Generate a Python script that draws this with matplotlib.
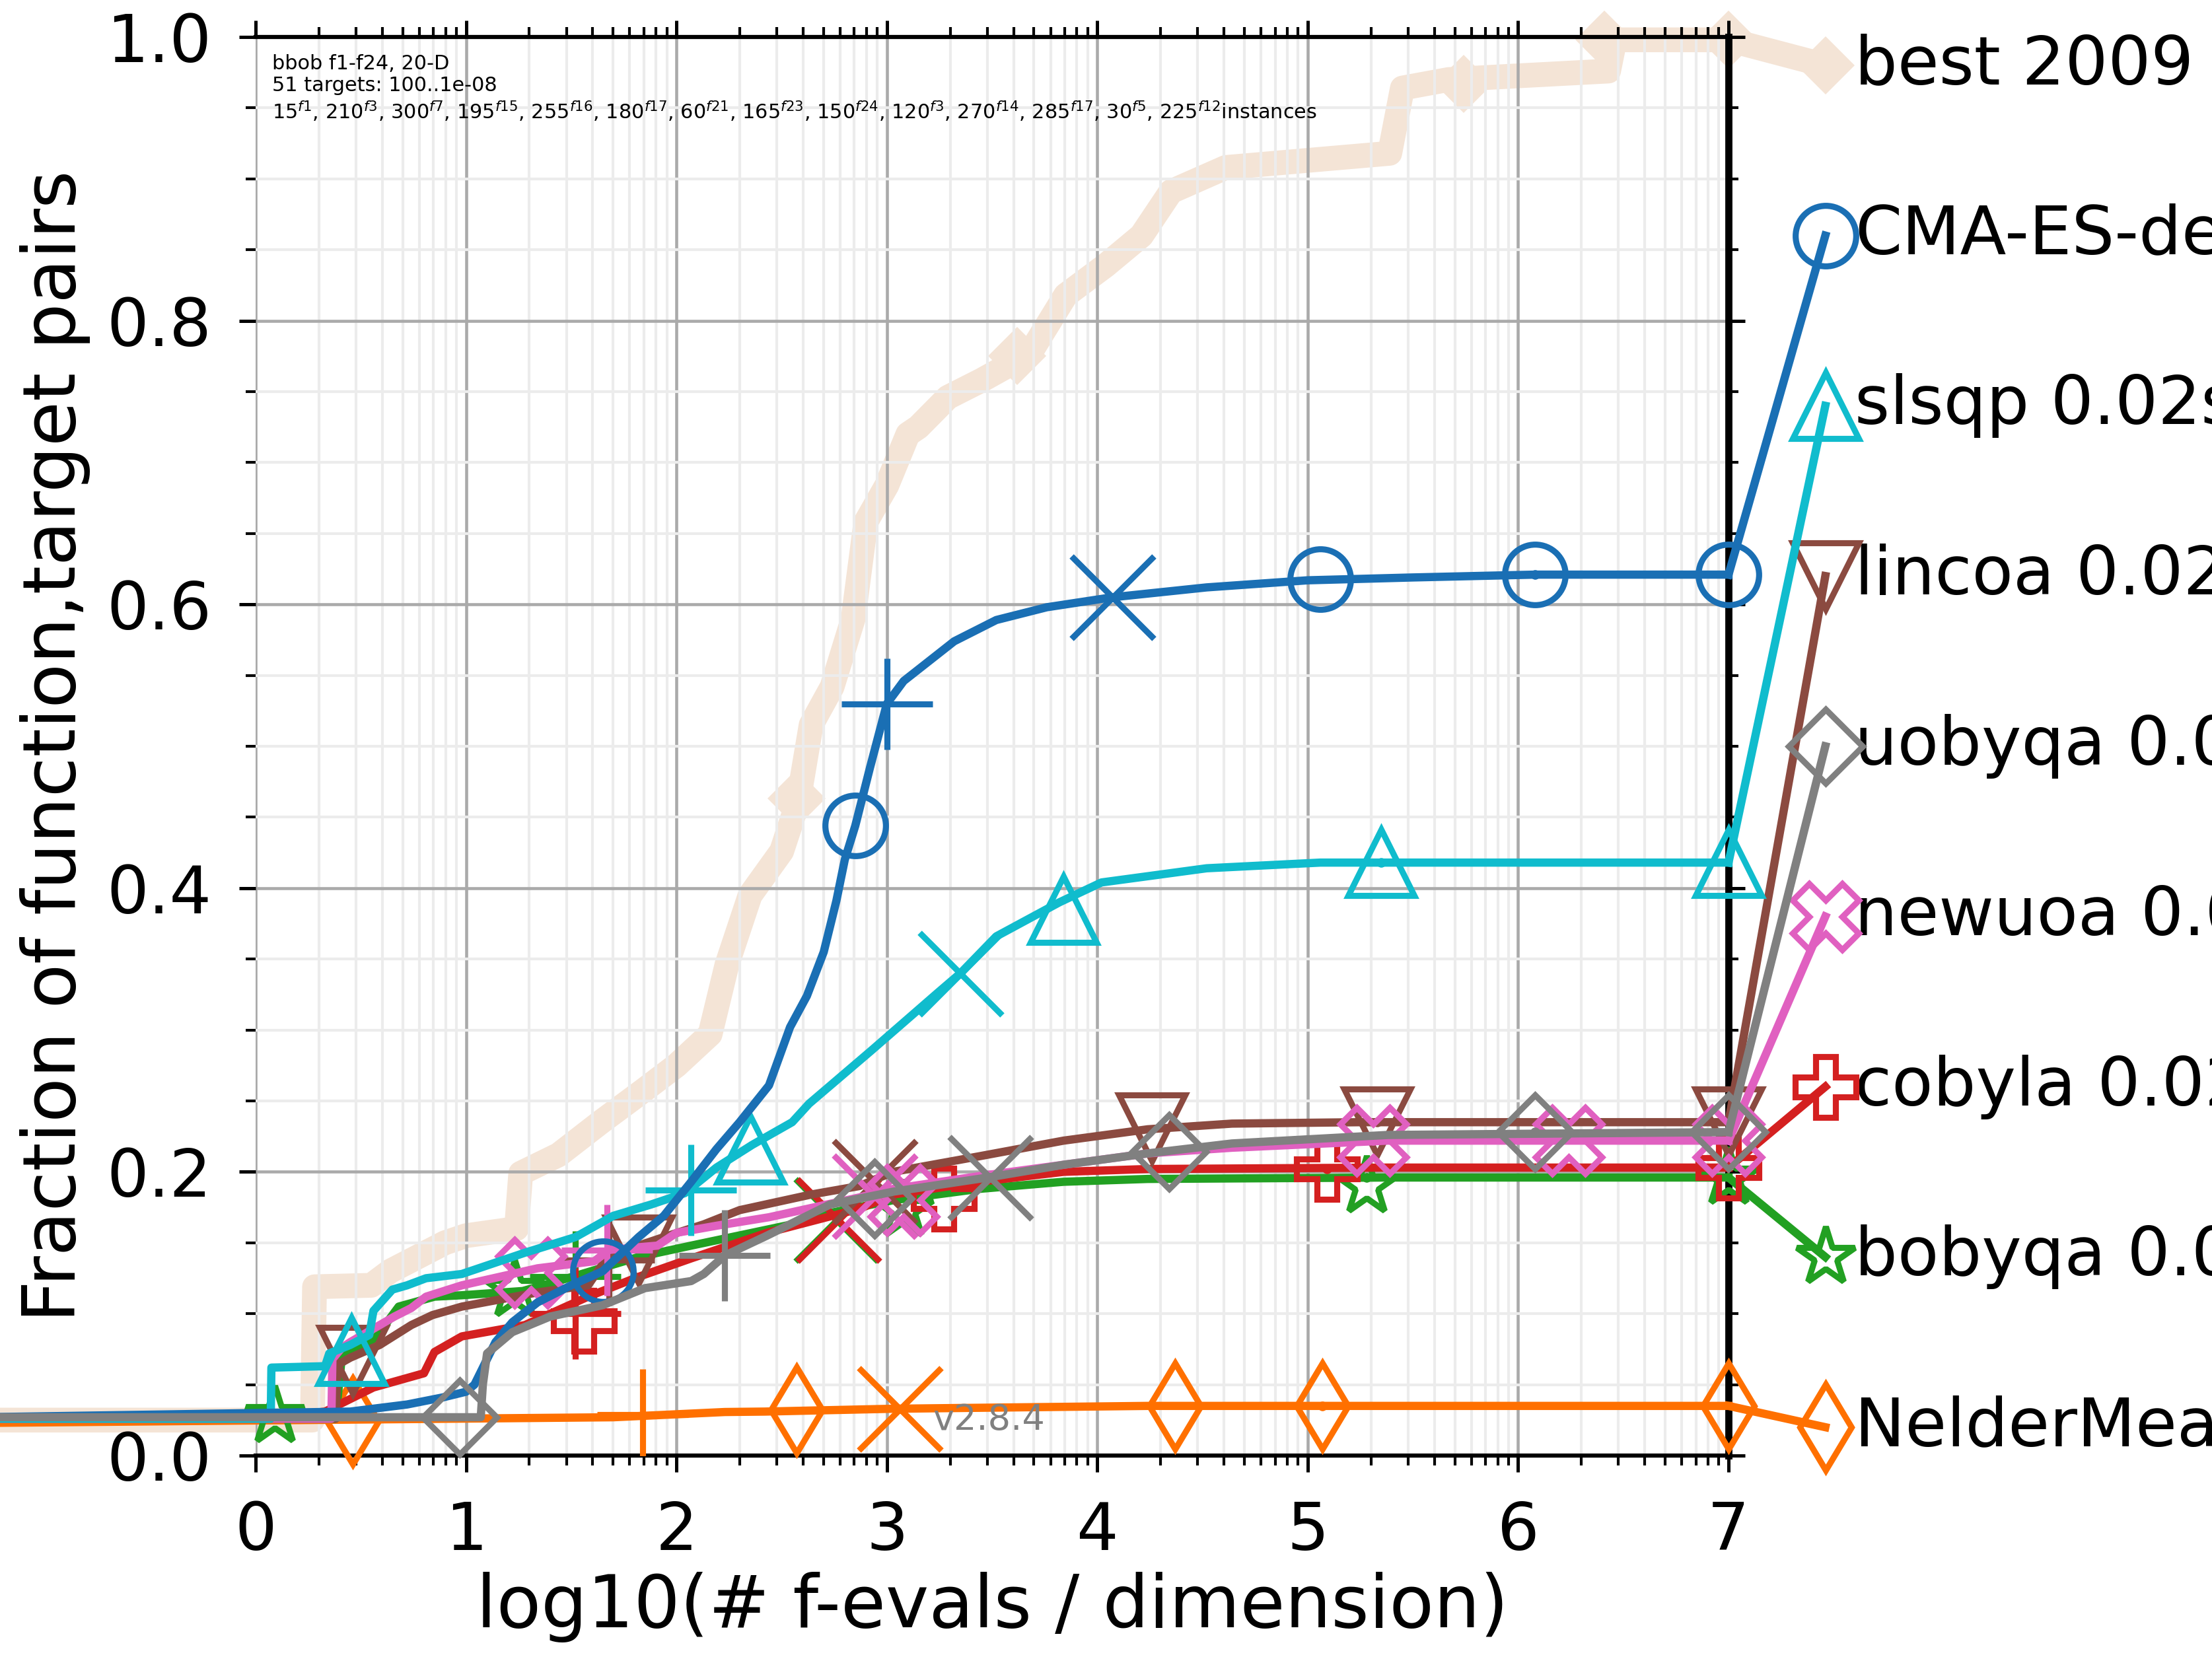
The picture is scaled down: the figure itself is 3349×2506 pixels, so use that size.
import numpy as np
import matplotlib
matplotlib.use('Agg')
from matplotlib import pyplot as plt
from matplotlib.ticker import FixedLocator, FuncFormatter, LogLocator, MultipleLocator, NullFormatter

# runtime ECDFs, x = log10(# f-evals / dimension), y = fraction of (function, target) pairs
best_x = [-1.3, 0.27, 0.28, 0.55, 0.64, 0.9, 1.0, 1.24, 1.26, 1.44, 1.64, 1.84, 2.0, 2.16, 2.24,
          2.35, 2.5, 2.58, 2.64, 2.74, 2.84, 2.9, 3.0, 3.1, 3.15, 3.29, 3.45, 3.68, 3.85, 4.04,
          4.21, 4.35, 4.61, 5.39, 5.45, 5.67, 6.43, 6.46, 7.0]
best_y = [0.025, 0.025, 0.119, 0.12, 0.13, 0.15, 0.155, 0.16, 0.199, 0.212, 0.235, 0.257, 0.275,
          0.297, 0.346, 0.395, 0.426, 0.462, 0.515, 0.542, 0.59, 0.658, 0.684, 0.72, 0.725, 0.746,
          0.758, 0.777, 0.818, 0.839, 0.86, 0.891, 0.908, 0.918, 0.964, 0.97, 0.976, 0.998, 0.998]
best_marks = [(2.57, 0.463), (3.62, 0.775), (5.74, 0.967), (6.41, 0.998), (7.0, 0.998)]

cma_x = [-1.3, 0.45, 0.72, 0.89, 1.0, 1.04, 1.14, 1.22, 1.34, 1.5, 1.65, 1.82, 1.94, 2.07, 2.19,
         2.3, 2.44, 2.54, 2.62, 2.7, 2.76, 2.8, 2.85, 2.92, 3.0, 3.08, 3.2, 3.32, 3.52, 3.76, 4.07,
         4.52, 5.0, 5.5, 6.08, 7.0]
cma_y = [0.027, 0.031, 0.036, 0.041, 0.045, 0.05, 0.08, 0.094, 0.108, 0.12, 0.13, 0.154, 0.169,
         0.193, 0.216, 0.235, 0.261, 0.302, 0.324, 0.355, 0.391, 0.42, 0.444, 0.485, 0.53, 0.546,
         0.56, 0.574, 0.589, 0.598, 0.605, 0.612, 0.617, 0.619, 0.621, 0.621]
cma_marks = [(1.65, 0.13), (2.85, 0.444), (5.06, 0.618), (6.08, 0.621), (7.0, 0.621)]
cma_plus, cma_cross, cma_dot = (3.0, 0.53), (4.07, 0.605), (6.08, 0.621)

slsqp_x = [-1.3, 0.072, 0.075, 0.33, 0.35, 0.45, 0.54, 0.56, 0.65, 0.72, 0.81, 0.98, 1.28, 1.52,
           1.7, 1.88, 2.04, 2.19, 2.36, 2.55, 2.63, 2.93, 3.24, 3.35, 3.52, 3.82, 4.02, 4.52, 5.06, 7.0]
slsqp_y = [0.026, 0.026, 0.062, 0.063, 0.072, 0.078, 0.085, 0.102, 0.117, 0.12, 0.125, 0.128,
           0.143, 0.154, 0.169, 0.177, 0.185, 0.203, 0.219, 0.235, 0.248, 0.286, 0.326, 0.34,
           0.366, 0.39, 0.404, 0.414, 0.418, 0.418]
slsqp_marks = [(0.455, 0.074), (2.35, 0.216), (3.84, 0.385), (5.35, 0.418), (7.0, 0.418)]
slsqp_plus, slsqp_cross, slsqp_dot = (2.07, 0.187), (3.35, 0.34), (5.35, 0.418)

lincoa_x = [-1.3, 0.38, 0.39, 0.45, 0.59, 0.74, 0.84, 0.98, 1.34, 1.58, 1.64, 1.68, 1.94, 2.13,
            2.3, 2.64, 2.87, 3.03, 3.44, 3.84, 4.24, 4.64, 5.25, 7.0]
lincoa_y = [0.026, 0.026, 0.064, 0.069, 0.078, 0.092, 0.099, 0.105, 0.115, 0.12, 0.133, 0.141,
            0.154, 0.163, 0.173, 0.184, 0.19, 0.2, 0.211, 0.222, 0.23, 0.234, 0.235, 0.235]
lincoa_marks = [(0.46, 0.067), (1.82, 0.145), (4.26, 0.231), (5.33, 0.235), (7.0, 0.235)]
lincoa_plus, lincoa_cross, lincoa_dot = (1.68, 0.138), (2.94, 0.193), (5.33, 0.235)

uobyqa_x = [-1.3, 1.07, 1.08, 1.1, 1.22, 1.4, 1.65, 1.85, 2.07, 2.13, 2.23, 2.43, 2.73, 3.03,
            3.48, 3.84, 4.24, 4.64, 5.38, 7.0]
uobyqa_y = [0.027, 0.027, 0.05, 0.072, 0.087, 0.098, 0.106, 0.118, 0.123, 0.128, 0.141, 0.155,
            0.177, 0.186, 0.196, 0.205, 0.213, 0.22, 0.226, 0.228]
uobyqa_marks = [(0.97, 0.027), (2.94, 0.181), (4.34, 0.214), (6.08, 0.228), (7.0, 0.228)]
uobyqa_plus, uobyqa_cross, uobyqa_dot = (2.23, 0.141), (3.49, 0.196), (6.08, 0.228)

newuoa_x = [-1.3, 0.36, 0.365, 0.41, 0.45, 0.66, 0.74, 0.81, 0.98, 1.34, 1.61, 1.68, 1.91, 2.0,
            2.19, 2.44, 2.87, 3.03, 3.44, 3.84, 4.24, 4.64, 5.38, 7.0]
newuoa_y = [0.026, 0.026, 0.068, 0.076, 0.08, 0.098, 0.104, 0.112, 0.12, 0.132, 0.137, 0.145,
            0.148, 0.157, 0.162, 0.168, 0.182, 0.188, 0.197, 0.205, 0.213, 0.217, 0.222, 0.222]
newuoa_marks = [(1.31, 0.129), (3.08, 0.18), (5.31, 0.222), (6.24, 0.222), (7.0, 0.222)]
newuoa_plus, newuoa_cross, newuoa_dot = (1.67, 0.145), (2.94, 0.183), (5.31, 0.222)

cobyla_x = [-1.3, 0.08, 0.33, 0.56, 0.8, 0.85, 0.98, 1.28, 1.58, 1.82, 2.07, 2.43, 2.87, 3.03,
            3.44, 3.84, 4.24, 5.38, 7.0]
cobyla_y = [0.026, 0.027, 0.031, 0.048, 0.058, 0.073, 0.084, 0.092, 0.112, 0.126, 0.139, 0.157,
            0.174, 0.184, 0.193, 0.2, 0.202, 0.203, 0.203]
cobyla_marks = [(1.56, 0.095), (3.27, 0.181), (5.09, 0.202), (7.0, 0.203)]
cobyla_plus, cobyla_cross, cobyla_dot = (1.52, 0.1), (2.77, 0.166), (5.09, 0.202)

bobyqa_x = [-1.3, 0.38, 0.41, 0.57, 0.68, 0.85, 0.98, 1.27, 1.46, 1.82, 2.07, 2.55, 2.63, 3.03,
            3.44, 3.84, 4.24, 5.38, 7.0]
bobyqa_y = [0.026, 0.026, 0.07, 0.083, 0.105, 0.112, 0.113, 0.116, 0.124, 0.14, 0.148, 0.163,
            0.168, 0.18, 0.188, 0.193, 0.195, 0.196, 0.196]
bobyqa_marks = [(0.09, 0.028), (1.23, 0.117), (3.08, 0.173), (5.28, 0.19), (7.0, 0.196)]
bobyqa_plus, bobyqa_cross, bobyqa_dot = (1.52, 0.126), (2.76, 0.166), (5.28, 0.196)

nm_x = [-1.3, 1.7, 2.23, 2.42, 3.03, 4.24, 7.0]
nm_y = [0.023, 0.027, 0.0307, 0.031, 0.033, 0.035, 0.035]
nm_marks = [(0.46, 0.024), (2.57, 0.032), (4.37, 0.035), (5.07, 0.035), (7.0, 0.035)]
nm_plus, nm_cross, nm_dot = (1.84, 0.029), (3.06, 0.033), (5.07, 0.035)

label_names = ['best 2009', 'CMA-ES-default', 'slsqp 0.02s', 'lincoa 0.02s', 'uobyqa 0.02s',
               'newuoa 0.02s', 'cobyla 0.02s', 'bobyqa 0.02s', 'NelderMead 0.02s']
label_y = [0.98, 0.86, 0.74, 0.62, 0.50, 0.38, 0.26, 0.14, 0.02]

info_text = ('bbob f1-f24, 20-D\n51 targets: 100..1e-08\n'
             '15$^{f1}$, 210$^{f3}$, 300$^{f7}$, 195$^{f15}$, 255$^{f16}$, 180$^{f17}$, '
             '60$^{f21}$, 165$^{f23}$, 150$^{f24}$, 120$^{f3}$, 270$^{f14}$, 285$^{f17}$, '
             '30$^{f5}$, 225$^{f12}$instances')

# name, color, marker, size, line x/y, markers, plus, cross, dot, drawing order
algs = [
    ('NelderMead 0.02s', '#ff7000', 'd', 22, nm_x, nm_y, nm_marks, nm_plus, nm_cross, nm_dot, 3.0),
    ('bobyqa 0.02s', '#22a022', '*', 22, bobyqa_x, bobyqa_y, bobyqa_marks, bobyqa_plus, bobyqa_cross, bobyqa_dot, 3.1),
    ('cobyla 0.02s', '#d42020', 'P', 22, cobyla_x, cobyla_y, cobyla_marks, cobyla_plus, cobyla_cross, cobyla_dot, 3.2),
    ('lincoa 0.02s', '#8b4a40', 'v', 24, lincoa_x, lincoa_y, lincoa_marks, lincoa_plus, lincoa_cross, lincoa_dot, 3.3),
    ('newuoa 0.02s', '#e060c0', 'X', 24, newuoa_x, newuoa_y, newuoa_marks, newuoa_plus, newuoa_cross, newuoa_dot, 3.4),
    ('slsqp 0.02s', '#10bccd', '^', 24, slsqp_x, slsqp_y, slsqp_marks, slsqp_plus, slsqp_cross, slsqp_dot, 3.5),
    ('CMA-ES-default', '#1a6fb4', 'o', 22, cma_x, cma_y, cma_marks, cma_plus, cma_cross, cma_dot, 3.6),
    ('uobyqa 0.02s', '#808080', 'D', 19, uobyqa_x, uobyqa_y, uobyqa_marks, uobyqa_plus, uobyqa_cross, uobyqa_dot, 3.7),
]

LX = 7.46    # log10 position of the end-of-line labels
TX = 7.60
LW = 3.0
MEW = 2.2

plt.rcParams['font.family'] = 'DejaVu Sans'
fig = plt.figure(figsize=(3349 / 300, 2506 / 300), dpi=300)
ax = fig.add_axes([387 / 3349, 302 / 2506, 2230 / 3349, 2148 / 2506])
ax.set_xscale('log')


def lg(v):
    return 10.0 ** np.asarray(v, dtype=float)


# best 2009 reference band, kept under the grid
beige = '#f4e4d6'
ax.plot(lg(best_x), best_y, color=beige, lw=9, solid_capstyle='butt', solid_joinstyle='round',
        clip_on=False, zorder=0.4)
bm = np.array(best_marks)
ax.plot(lg(bm[:, 0]), bm[:, 1], ls='none', marker='D', ms=15, color=beige, mew=0,
        clip_on=False, zorder=0.4)
ax.plot(lg([7.0, LX]), [best_y[-1], label_y[0]], color=beige, lw=9, clip_on=False, zorder=0.4)
ax.plot(lg([LX]), [label_y[0]], marker='D', ms=15, color=beige, mew=0, clip_on=False, zorder=0.4)
ax.text(lg(TX), label_y[0], label_names[0], fontsize=24.5, va='center', ha='left')

for name, col, mk, ms, xs, ys, marks, plus, cross, dot, z in algs:
    ax.plot(lg(xs), ys, color=col, lw=LW, clip_on=False, zorder=z)
    m = np.array(marks)
    ax.plot(lg(m[:, 0]), m[:, 1], ls='none', marker=mk, ms=ms, mfc='none', mec=col, mew=MEW,
            clip_on=False, zorder=z)
    ax.plot(lg([plus[0]]), [plus[1]], marker='+', ms=33, color=col, mew=MEW, zorder=z)
    ax.plot(lg([cross[0]]), [cross[1]], marker='x', ms=30, color=col, mew=MEW, zorder=z)
    ax.plot(lg([dot[0]]), [dot[1]], marker='o', ms=3.5, color=col, mew=0, zorder=z)
    ly = label_y[label_names.index(name)]
    ax.plot(lg([7.0, LX]), [ys[-1], ly], color=col, lw=LW, clip_on=False, zorder=z)
    ax.plot(lg([LX]), [ly], marker=mk, ms=ms, mfc='none', mec=col, mew=MEW, clip_on=False,
            zorder=z)
    ax.text(lg(TX), ly, name, fontsize=24.5, va='center', ha='left')

ax.text(lg(0.08), 0.988, info_text, fontsize=7.3, va='top', ha='left')
ax.text(lg(3.22), 0.025, 'v2.8.4', fontsize=13, color='0.5', va='center', ha='left', zorder=4)

ax.set_xlim(1, 1e7)
ax.set_ylim(0, 1)
ax.xaxis.set_major_locator(FixedLocator(lg(np.arange(8))))
ax.xaxis.set_major_formatter(FuncFormatter(lambda v, p: '%d' % round(np.log10(v))))
ax.xaxis.set_minor_locator(LogLocator(base=10, subs=np.arange(2, 10), numticks=20))
ax.xaxis.set_minor_formatter(NullFormatter())
ax.yaxis.set_major_locator(MultipleLocator(0.2))
ax.yaxis.set_minor_locator(MultipleLocator(0.05))
ax.yaxis.set_major_formatter(FuncFormatter(lambda v, p: '%.1f' % v))

ax.set_axisbelow(True)
ax.grid(True, which='major', color='#aaaaaa', lw=1.1)
ax.grid(True, which='minor', color='#ececec', lw=1.0)

ax.tick_params(which='both', direction='out', top=True, right=True, labelsize=24, pad=10)
ax.tick_params(which='major', length=6, width=1.2)
ax.tick_params(which='minor', length=3.5, width=1.0)

ax.spines['left'].set_visible(False)
ax.spines['top'].set_linewidth(1.5)
ax.spines['bottom'].set_linewidth(1.5)
ax.spines['right'].set_linewidth(2.6)

ax.set_xlabel('log10(# f-evals / dimension)', fontsize=26.5)
ax.set_ylabel('Fraction of function,target pairs', fontsize=26.5)
ax.xaxis.set_label_coords(0.5, -0.082)
ax.yaxis.set_label_coords(-0.112, 0.5)

fig.savefig('out.png', dpi=300)
